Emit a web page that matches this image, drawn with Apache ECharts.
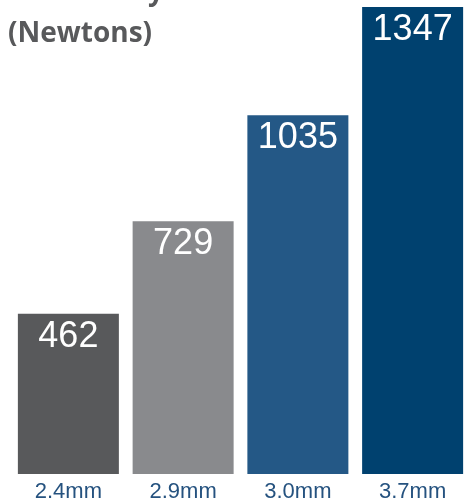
<!DOCTYPE html>
<html>
<head>
<meta charset="utf-8">
<script src="https://cdn.jsdelivr.net/npm/echarts@6/dist/echarts.min.js"></script>
<style>
  html, body { margin: 0; padding: 0; background: #fff; }
  #chart { width: 471px; height: 499px; }
</style>
</head>
<body>
<div id="chart"></div>
<script>
// 数据
const sizes = ['2.4mm', '2.9mm', '3.0mm', '3.7mm'];
const forces = [462, 729, 1035, 1347];
const barColors = ['#58595b', '#898a8d', '#245886', '#00416f'];

const chart = echarts.init(document.getElementById('chart'));

chart.setOption({
    animation: false,
    // 标题只露出第二行，第一行被裁掉
    title: {
        text: 'Mean Bony Shear Force\n(Newtons)',
        left: 3,
        top: -34,
        textStyle: {
            fontFamily: 'Open Sans',
            fontWeight: 'bold',
            fontSize: 28,
            lineHeight: 42,
            color: '#58595b'
        }
    },
    grid: { left: 11, right: 1, top: 7, bottom: 25, outerBoundsMode: 'none' },
    xAxis: {
        type: 'category',
        data: sizes,
        axisLine: { show: false },
        axisTick: { show: false },
        axisLabel: {
            margin: 7,
            fontFamily: 'Liberation Sans',
            fontSize: 22,
            color: '#25527f'
        }
    },
    yAxis: {
        type: 'value',
        min: 0,
        max: 1347,
        show: false,
        splitLine: { show: false }
    },
    series: [{
        type: 'bar',
        barWidth: 101,
        data: forces.map((v, i) => ({ value: v, itemStyle: { color: barColors[i] } })),
        label: {
            show: true,
            position: 'insideTop',
            distance: 5,
            fontFamily: 'Liberation Sans',
            fontSize: 36,
            color: '#fff'
        }
    }]
});
</script>
</body>
</html>
